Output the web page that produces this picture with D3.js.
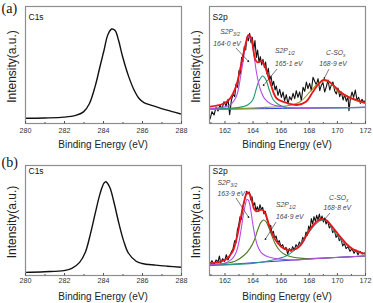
<!DOCTYPE html>
<html>
<head>
<meta charset="utf-8">
<script src="https://cdn.jsdelivr.net/npm/d3@7"></script>
<style>
  body { margin: 0; background: #fff; }
  svg { display: block; }
</style>
</head>
<body>
<svg width="373" height="303"></svg>
<script>
// ---- tick labels ----
const c1sTicks = [280, 282, 284, 286, 288];
const c1sMinor = [281, 283, 285, 287];
const s2pTicks = [162, 164, 166, 168, 170, 172];
const s2pMinor = [161, 163, 165, 167, 169, 171];

// ---- (a) C1s ----
const c1sEnergyA = [280.0, 281.0, 282.0, 282.6, 283.0, 283.3, 283.6, 283.85, 284.05, 284.25, 284.45, 284.62, 284.8, 285.0, 285.3, 285.6, 285.85, 286.1, 286.5, 287.0, 287.5, 288.0];
const c1sA = [4.0, 4.3, 5.0, 6.5, 9.5, 16.5, 31.5, 48.5, 62.0, 75.5, 80.3, 79.0, 70.5, 57.0, 40.5, 28.0, 21.0, 17.5, 15.0, 12.3, 10.0, 7.7];

// ---- (b) C1s ----
const c1sEnergyB = [280.0, 281.0, 282.0, 282.4, 282.8, 283.1, 283.35, 283.6, 283.85, 284.05, 284.15, 284.35, 284.55, 284.8, 285.05, 285.3, 285.7, 286.0, 286.7, 287.3, 288.0];
const c1sB = [2.4, 3.0, 4.0, 6.0, 11.5, 21.0, 37.0, 56.0, 74.0, 83.5, 84.8, 79.5, 67.0, 48.0, 31.5, 20.0, 12.5, 10.5, 9.0, 8.0, 7.0];

// ---- (a) S2p raw spectrum ----
const rawEnergyA = [160.97,161.11,161.26,161.40,161.54,161.68,161.83,161.97,162.11,162.25,
  162.37,162.49,162.61,162.73,162.82,162.94,163.03,163.13,163.22,163.32,
  163.41,163.51,163.60,163.70,163.79,163.89,163.98,164.08,164.17,164.27,
  164.36,164.46,164.55,164.65,164.74,164.84,164.93,165.03,165.12,165.22,
  165.31,165.41,165.50,165.60,165.69,165.81,165.93,166.05,166.17,166.28,
  166.40,166.52,166.64,166.76,166.88,167.00,167.11,167.23,167.35,167.47,
  167.59,167.71,167.83,167.94,168.06,168.18,168.30,168.42,168.54,168.66,
  168.78,168.89,169.01,169.13,169.25,169.37,169.49,169.61,169.72,169.84,
  169.96,170.08,170.20,170.32,170.44,170.55,170.67,170.79,170.86,170.96,
  171.08,171.19,171.31,171.43,171.55,171.67,171.79,171.91,172.00];
const rawA = [11,34,24,47,36,53,43,64,51,71,
  25,67,86,79,117,107,157,147,197,184,
  229,219,257,247,269,241,257,219,247,197,
  219,181,199,174,191,167,183,147,164,129,
  141,113,125,99,111,83,101,77,93,67,
  85,57,79,69,89,73,97,77,93,67,
  107,95,123,103,119,97,137,125,115,133,
  97,113,121,93,109,129,99,115,123,97,
  87,105,79,93,69,85,65,79,37,73,
  93,77,99,69,77,59,71,63,67];

// ---- (a) S2p fits ----
const envEnergyA = [160.97,161.87,162.35,162.82,163.18,163.49,163.70,163.89,164.05,164.2,164.35,164.6,164.8,165.0,165.31,165.71,166.38,167.14,167.80,168.30,168.70,169.04,169.46,170.22,170.89,171.41,172.00];
const envA = [49,57,71,109,174,234,264,257,222,190,182,186,178,155,114,74,61,54,64,94,117,129,124,94,77,69,61];
const p32EnergyA = [160.97,162.35,162.82,163.18,163.49,163.70,163.89,164.08,164.29,164.53,164.84,165.31,166.02,166.85,168.5,172.0];
const p32A = [43,53,77,147,229,259,251,209,149,104,74,57,49,45,45,47];
const p12EnergyA = [160.97,163.06,163.65,164.01,164.24,164.43,164.72,164.96,165.19,165.48,165.90,166.38,167.33,172.0];
const p12A = [43,47,54,69,99,124,141,129,99,69,54,47,45,47];
const soxEnergyA = [160.97,162.82,164.96,166.38,167.38,168.09,168.63,169.04,169.51,169.98,170.93,171.86,172.0];
const soxA = [41,43,47,51,64,94,117,127,121,99,74,60,59];
const baseEnergyA = [160.97, 166.5, 172.0];
const baseA = [41, 44, 47];

// ---- (b) S2p raw spectrum ----
const rawEnergyB = [160.97,161.11,161.26,161.40,161.54,161.64,161.73,161.87,162.01,162.13,
  162.25,162.37,162.49,162.61,162.73,162.82,162.92,163.01,163.11,163.20,
  163.30,163.39,163.49,163.58,163.68,163.77,163.87,163.96,164.05,164.15,
  164.24,164.34,164.43,164.53,164.62,164.72,164.81,164.91,165.00,165.10,
  165.19,165.29,165.38,165.48,165.57,165.67,165.79,165.90,166.02,166.14,
  166.26,166.38,166.50,166.62,166.74,166.85,166.97,167.09,167.21,167.33,
  167.45,167.57,167.69,167.80,167.90,167.99,168.09,168.18,168.28,168.37,
  168.47,168.56,168.66,168.75,168.85,168.94,169.04,169.13,169.23,169.34,
  169.46,169.58,169.70,169.82,169.94,170.06,170.17,170.29,170.41,170.53,
  170.65,170.79,170.93,171.08,171.22,171.36,171.50,171.64,171.79,172.00];
const rawB = [33,43,31,45,39,57,37,49,41,61,
  45,57,69,79,103,97,135,149,175,167,
  205,217,237,251,243,249,225,235,207,217,
  193,205,191,211,197,203,183,191,169,161,
  143,149,125,131,111,117,97,103,85,91,
  77,83,63,79,71,85,75,91,83,99,
  91,113,105,129,119,147,135,169,153,175,
  161,179,165,183,163,177,159,171,153,163,
  141,149,127,135,113,121,103,109,87,95,
  79,85,71,79,65,75,61,71,63,67];

// ---- (b) S2p fits ----
const envEnergyB = [160.97,161.64,162.11,162.58,162.87,163.11,163.34,163.53,163.65,163.79,163.96,164.12,164.29,164.53,164.72,164.91,165.10,165.29,165.52,165.81,166.19,166.62,167.09,167.44,167.85,168.28,168.63,168.94,169.23,169.70,170.17,170.65,171.12,171.60,172.0];
const envB = [35,39,47,70,110,160,210,240,248,244,220,197,191,195,195,185,160,135,113,95,80,75,78,90,120,148,163,168,165,143,118,95,78,69,63];
const p32EnergyB = [160.97,162.11,162.58,162.82,163.01,163.18,163.34,163.49,163.60,163.72,163.87,164.01,164.17,164.36,164.60,164.96,165.43,166.14,167.09,168.75,172.0];
const p32B = [32,37,50,67,95,135,180,212,227,223,195,155,117,87,68,57,51,47,45,50,57];
const p12EnergyB = [160.97,162.11,162.82,163.42,163.82,164.13,164.36,164.58,164.77,164.96,165.15,165.38,165.62,165.90,166.26,166.74,167.57,168.75,172.0];
const p12B = [30,35,43,60,80,105,135,157,165,160,143,117,93,75,62,55,50,50,57];
const soxEnergyB = [160.97,164.01,165.43,166.38,166.85,167.33,167.80,168.28,168.63,168.99,169.34,169.70,170.41,171.12,172.0];
const soxB = [30,35,45,57,70,90,117,143,158,165,160,135,100,77,63];
const baseEnergyB = [160.97, 165.19, 168.75, 172.0];
const baseB = [28, 40, 50, 57];

// ---- peak labels (energy, intensity) ----
const notesA = [
  {e: 161.7, v: 266, main: 'S2P', sub: '3/2'},
  {e: 161.2, v: 232, main: '164·0  eV'},
  {e: 165.6, v: 210, main: 'S2P', sub: '1/2'},
  {e: 165.6, v: 171, main: '165·1  eV'},
  {e: 169.23, v: 204, main: 'C-SO', sub: 'x'},
  {e: 168.75, v: 171, main: '168·9  eV'}
];
const arrowsA = [
  {e0: 162.82, v0: 225, e1: 163.75, v1: 183},
  {e0: 165.74, v0: 162, e1: 164.74, v1: 111},
  {e0: 169.44, v0: 162, e1: 169.08, v1: 132}
];
const notesB = [
  {e: 161.5, v: 270, main: 'S2P', sub: '3/2'},
  {e: 161.5, v: 238, main: '163·9  eV'},
  {e: 165.67, v: 204, main: 'S2P', sub: '1/2'},
  {e: 165.67, v: 168, main: '164·9  eV'},
  {e: 169.44, v: 225, main: 'C-SO', sub: 'x'},
  {e: 169.05, v: 195, main: '168·8  eV'}
];
const arrowsB = [
  {e0: 162.82, v0: 231, e1: 163.75, v1: 171},
  {e0: 165.67, v0: 159, e1: 164.88, v1: 105},
  {e0: 169.51, v0: 186, e1: 169.08, v1: 165}
];

const svg = d3.select('svg');
const sans = "'Liberation Sans', Arial, sans-serif";

const rows = [
  {top: 6, bottom: 123, tag: '(a)', tagY: 12.5, nameY: 20, tickPad: 4.5},
  {top: 165, bottom: 275, tag: '(b)', tagY: 167, nameY: 173.5, tickPad: 2.5}
];
const cols = [{left: 25, right: 181}, {left: 209, right: 365}];

const zip = (es, vs) => es.map((e, i) => ({e: e, v: vs[i]}));

const panels = [
  {row: 0, col: 0, name: 'C1s', dom: [280, 288], yMax: 100, ticks: c1sTicks, minor: c1sMinor,
   lines: [{pts: zip(c1sEnergyA, c1sA), color: '#111', w: 1.4, smooth: true}]},
  {row: 0, col: 1, name: 'S2p', dom: [160.9, 172], yMax: 351, ticks: s2pTicks, minor: s2pMinor,
   notes: notesA, arrows: arrowsA,
   lines: [
     {pts: zip(rawEnergyA, rawA), color: '#111', w: 1.1},
     {pts: zip(baseEnergyA, baseA), color: '#2a3fd6', w: 1, smooth: true},
     {pts: zip(soxEnergyA, soxA), color: '#8e9a2c', w: 1.1, smooth: true},
     {pts: zip(p12EnergyA, p12A), color: '#1e9a6e', w: 1.1, smooth: true},
     {pts: zip(p32EnergyA, p32A), color: '#b44ee6', w: 1.1, smooth: true},
     {pts: zip(envEnergyA, envA), color: '#e8161b', w: 1.8, smooth: true}
   ]},
  {row: 1, col: 0, name: 'C1s', dom: [280, 288], yMax: 100, ticks: c1sTicks, minor: c1sMinor,
   lines: [{pts: zip(c1sEnergyB, c1sB), color: '#111', w: 1.4, smooth: true}]},
  {row: 1, col: 1, name: 'S2p', dom: [160.9, 172], yMax: 330, ticks: s2pTicks, minor: s2pMinor,
   notes: notesB, arrows: arrowsB,
   lines: [
     {pts: zip(rawEnergyB, rawB), color: '#111', w: 1.1},
     {pts: zip(baseEnergyB, baseB), color: '#2a3fd6', w: 1, smooth: true},
     {pts: zip(soxEnergyB, soxB), color: '#2a9a86', w: 1.1, smooth: true},
     {pts: zip(p12EnergyB, p12B), color: '#4f7a1e', w: 1.1, smooth: true},
     {pts: zip(p32EnergyB, p32B), color: '#b44ee6', w: 1.1, smooth: true},
     {pts: zip(envEnergyB, envB), color: '#e8161b', w: 1.8, smooth: true}
   ]}
];

svg.append('defs').append('marker')
  .attr('id', 'arr').attr('viewBox', '0 0 6 6').attr('refX', 5).attr('refY', 3)
  .attr('markerWidth', 4).attr('markerHeight', 4).attr('orient', 'auto')
  .append('path').attr('d', 'M0,0L6,3L0,6z').attr('fill', '#222');

rows.forEach(r => {
  svg.append('text').attr('x', 1.5).attr('y', r.tagY).text(r.tag)
     .attr('font-family', "'Liberation Serif', 'Times New Roman', serif")
     .attr('font-size', 14).attr('fill', '#111');
});

panels.forEach((p, k) => {
  const r = rows[p.row], c = cols[p.col];
  const x = d3.scaleLinear().domain(p.dom).range([c.left, c.right]);
  const y = d3.scaleLinear().domain([0, p.yMax]).range([r.bottom, r.top]);
  const g = svg.append('g');

  g.append('clipPath').attr('id', 'clip' + k).append('rect')
   .attr('x', c.left).attr('y', r.top).attr('width', c.right - c.left).attr('height', r.bottom - r.top);
  const plot = g.append('g').attr('clip-path', 'url(#clip' + k + ')');

  p.lines.forEach(s => {
    const line = d3.line().x(d => x(d.e)).y(d => y(d.v))
      .curve(s.smooth ? d3.curveCatmullRom.alpha(0.5) : d3.curveLinear);
    plot.append('path').datum(s.pts).attr('d', line)
      .attr('fill', 'none').attr('stroke', s.color).attr('stroke-width', s.w)
      .attr('stroke-linejoin', 'round');
  });

  // frame
  g.append('rect').attr('x', c.left + 0.5).attr('y', r.top + 0.5)
   .attr('width', c.right - c.left).attr('height', r.bottom - r.top)
   .attr('fill', 'none').attr('stroke', '#8e8e8e').attr('stroke-width', 1.2);

  // bottom axis, ticks pointing inward
  const ax = g.append('g').attr('transform', 'translate(0,' + (r.bottom + 0.5) + ')')
    .call(d3.axisBottom(x).tickValues(p.ticks).tickSize(-2.5).tickPadding(r.tickPad).tickFormat(d3.format('d')));
  ax.select('.domain').remove();
  ax.selectAll('line').attr('stroke', '#555');
  ax.selectAll('text').attr('font-family', sans).attr('font-size', 7.2).attr('fill', '#333');
  const mx = g.append('g').attr('transform', 'translate(0,' + (r.bottom + 0.5) + ')')
    .call(d3.axisBottom(x).tickValues(p.minor).tickSize(-1.5).tickFormat(''));
  mx.select('.domain').remove();
  mx.selectAll('line').attr('stroke', '#555');

  g.append('text').attr('x', (c.left + c.right) / 2).attr('y', r.bottom + 24.5)
   .attr('text-anchor', 'middle').attr('font-family', sans).attr('font-size', 10)
   .attr('fill', '#222').text('Binding Energy (eV)');

  g.append('text')
   .attr('transform', 'translate(' + (c.left - 9) + ',' + ((r.top + r.bottom) / 2 + 2) + ') rotate(-90)')
   .attr('text-anchor', 'middle').attr('font-family', sans).attr('font-size', 12)
   .attr('fill', '#222').text('Intensity(a.u.)');

  g.append('text').attr('x', c.left + 3.5).attr('y', r.nameY)
   .attr('font-family', sans).attr('font-size', 8.5).attr('fill', '#111').text(p.name);

  (p.notes || []).forEach(n => {
    const t = g.append('text').attr('x', x(n.e)).attr('y', y(n.v))
      .attr('font-family', sans).attr('font-style', 'italic')
      .attr('font-size', 6.8).attr('fill', '#444');
    t.append('tspan').text(n.main);
    if (n.sub) t.append('tspan').attr('dy', 1.8).attr('font-size', 5).text(n.sub);
  });
  (p.arrows || []).forEach(a => {
    g.append('line').attr('x1', x(a.e0)).attr('y1', y(a.v0)).attr('x2', x(a.e1)).attr('y2', y(a.v1))
     .attr('stroke', '#222').attr('stroke-width', 0.6).attr('marker-end', 'url(#arr)');
  });
});
</script>
</body>
</html>
